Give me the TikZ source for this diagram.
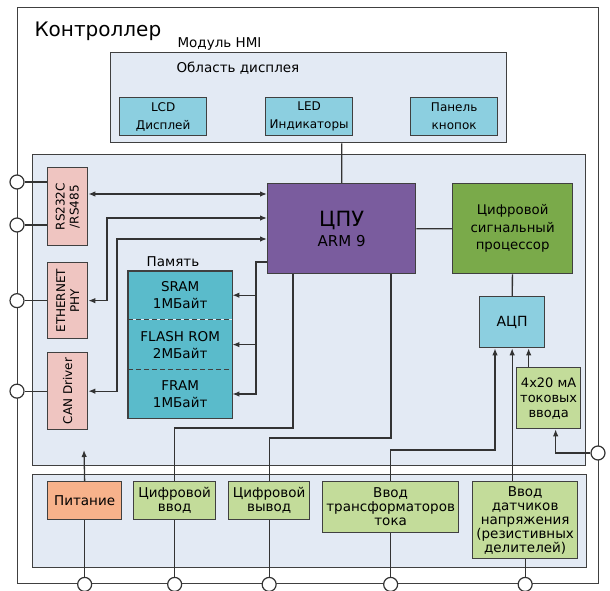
\documentclass[tikz,border=0pt]{standalone}
\usepackage{fontspec}
\setmainfont{DejaVu Sans}
\usetikzlibrary{positioning,arrows.meta}
\definecolor{bgblue}{HTML}{E3EAF4}
\definecolor{lcyan}{HTML}{8CCFE0}
\definecolor{memteal}{HTML}{5ABBCB}
\definecolor{cpuviolet}{HTML}{7A5C9E}
\definecolor{dspgreen}{HTML}{7AAA4A}
\definecolor{lgreen}{HTML}{C3DC9A}
\definecolor{lpink}{HTML}{EFC5C1}
\definecolor{lorange}{HTML}{F7B28B}
\begin{document}
\begin{tikzpicture}[x=1pt,y=-1pt,
frame/.style={
% The shape:
rectangle,
draw=black!75,
line width=1.4pt,
fill=bgblue,
anchor=north west,
inner sep=0pt
},
blk/.style={
rectangle,draw=black!75,line width=1.3pt,
anchor=north west,inner sep=0pt,align=center,
font=\fontsize{13.5}{14}\selectfont
},
cell/.style={
rectangle,fill=memteal,minimum width=104pt,inner sep=0pt,align=center,
font=\fontsize{13.5}{17}\selectfont
},
port/.style={circle,draw=black!80,line width=1.2pt,fill=white,minimum size=14pt,inner sep=0pt},
wire/.style={draw=black!80,line width=1.3pt},
>={Latex[length=7pt,width=5.5pt]}
]
\useasboundingbox (0,0) rectangle (610,591);
% Frames:
\node[frame,fill=white,minimum width=581pt,minimum height=576pt] (ctrl) at (17,7) {};
\node[anchor=base west,font=\fontsize{20}{22}\selectfont] (ctrllbl) at (31,37) {Контроллер};
\node[anchor=base west,font=\fontsize{13.5}{14}\selectfont] (hmilbl) at (174,48) {Модуль HMI};
\node[frame,minimum width=396pt,minimum height=90pt] (hmi) at (110,52) {};
\node[anchor=base west,font=\fontsize{13.5}{14}\selectfont] (displbl) at (173,73) {Область дисплея};
\node[frame,minimum width=553pt,minimum height=311pt] (main) at (32,154) {};
\node[frame,minimum width=554pt,minimum height=93pt] (io) at (32,474) {};
% HMI module:
\node[blk,fill=lcyan,minimum width=87pt,minimum height=38pt,font=\fontsize{12}{18}\selectfont] (lcd) at (119,97) {LCD\\Дисплей};
\node[blk,fill=lcyan,minimum width=87pt,minimum height=38pt,font=\fontsize{12}{18}\selectfont] (led) at (265,97) {LED\\Индикаторы};
\node[blk,fill=lcyan,minimum width=87pt,minimum height=38pt,font=\fontsize{12}{18}\selectfont] (keys) at (410,97) {Панель\\кнопок};
% Interfaces:
\node[blk,fill=lpink,minimum width=40pt,minimum height=78pt] (rs) at (47,167) {};
\node[rotate=90,align=center,font=\fontsize{12}{14}\selectfont] (rslbl) at (rs) {RS232C\\/RS485};
\node[blk,fill=lpink,minimum width=40pt,minimum height=76pt] (eth) at (47,262) {};
\node[rotate=90,align=center,font=\fontsize{12}{14}\selectfont] (ethlbl) at (eth) {ETHERNET\\PHY};
\node[blk,fill=lpink,minimum width=40pt,minimum height=77pt] (can) at (47,352) {};
\node[rotate=90,align=center,font=\fontsize{12}{14}\selectfont] (canlbl) at (can) {CAN Driver};
% Processors:
\node[blk,fill=cpuviolet,minimum width=148pt,minimum height=90pt,font=\fontsize{15}{20}\selectfont] (cpu) at (267,183) {{\fontsize{21}{22}\selectfont ЦПУ}\\ARM 9};
\node[blk,fill=dspgreen,minimum width=120pt,minimum height=90pt,font=\fontsize{13.3}{17.5}\selectfont] (dsp) at (452,183) {Цифровой\\сигнальный\\процессор};
\node[blk,fill=lcyan,minimum width=65pt,minimum height=51pt,font=\fontsize{14}{14}\selectfont] (adc) at (479,296) {АЦП};
\node[blk,fill=lgreen,minimum width=64pt,minimum height=61pt,font=\fontsize{13}{15}\selectfont] (ma) at (516,367) {4x20 мА\\токовых\\ввода};
% Memory:
\node[anchor=base,font=\fontsize{13.5}{14}\selectfont] (memlbl) at (173,266) {Память};
\node[cell,anchor=north west,minimum height=48pt] (sram) at (128,271) {SRAM\\1МБайт};
\node[cell,minimum height=50pt,below=0pt of sram] (flash) {FLASH ROM\\2МБайт};
\node[cell,minimum height=48pt,below=0pt of flash] (fram) {FRAM\\1МБайт};
\draw[black!75,line width=1.3pt,dash pattern=on 5pt off 3pt] (sram.south west) -- (sram.south east) (flash.south west) -- (flash.south east);
\draw[black!75,line width=1.3pt] (sram.north west) rectangle (fram.south east);
% Inputs and outputs:
\node[blk,fill=lorange,minimum width=74pt,minimum height=38pt] (pwr) at (47,481) {Питание};
\node[blk,fill=lgreen,minimum width=82pt,minimum height=38pt] (din) at (133,481) {Цифровой\\ввод};
\node[blk,fill=lgreen,minimum width=81pt,minimum height=38pt] (dout) at (228,481) {Цифровой\\вывод};
\node[blk,fill=lgreen,minimum width=136pt,minimum height=51pt] (ct) at (322,481) {Ввод\\трансформаторов\\тока};
\node[blk,fill=lgreen,minimum width=105pt,minimum height=77pt] (vs) at (472,481) {Ввод\\датчиков\\напряжения\\(резистивных\\делителей)};
% Ports:
\node[port] (p1) at (17,182) {};
\node[port] (p2) at (17,225) {};
\node[port] (p3) at (ctrl.west |- eth) {};
\node[port] (p4) at (ctrl.west |- can) {};
\node[port] (r1) at (598,453) {};
\node[port] (q1) at (pwr.south |- ctrl.south) {};
\node[port] (q2) at (din.south |- ctrl.south) {};
\node[port] (q3) at (dout.south |- ctrl.south) {};
\node[port] (q4) at (ct.south |- ctrl.south) {};
\node[port] (q5) at (vs.south |- ctrl.south) {};
% Bends:
\coordinate (b1) at (0,194);
\coordinate (k2) at (107,218);
\coordinate (k3) at (117,239);
\coordinate (mbus) at (256,262);
\coordinate (k4) at (293,428);
\coordinate (k5) at (391,438);
\coordinate (k6) at (495,450);
\coordinate (up) at (84,450);
% Wires:
\path[wire] (p1) -- (p1 -| rs.west) (p2) -- (p2 -| rs.west) (p3) -- (eth) (p4) -- (can);
\path[wire] (cpu.north) -- (cpu.north |- hmi.south) (cpu) -- (dsp) (dsp) -- (adc);
\path[wire,<->] (rs.east |- b1) -- (cpu.west |- b1);
\path[wire,<->] (cpu.west |- k2) -- (k2) |- (eth.east);
\path[wire,<->] (cpu.west |- k3) -- (k3) |- (can.east);
\path[wire,->] (cpu.west |- mbus) -- (mbus) |- (fram.east);
\path[wire,->] (mbus |- sram.east) -- (sram.east);
\path[wire,->] (mbus |- flash.east) -- (flash.east);
\path[wire] (q1) -- (pwr) (q2) -- (din) (q3) -- (dout) (q4) -- (ct) (q5) -- (vs);
\path[wire,->] (pwr.north) -- (up);
\path[wire] (din.north) |- (k4) -- (k4 |- cpu.south);
\path[wire] (dout.north) |- (k5) -- (k5 |- cpu.south);
\path[wire,->] (ct.north) |- (k6) -- (k6 |- adc.south);
\path[wire,->] (adc.south |- vs.north) -- (adc.south);
\path[wire,->] ([xshift=-20pt]ma.north) -- ([xshift=-20pt]ma.north |- adc.south);
\path[wire,->] (r1) -| ([xshift=7pt]ma.south);
\end{tikzpicture}
\end{document}
